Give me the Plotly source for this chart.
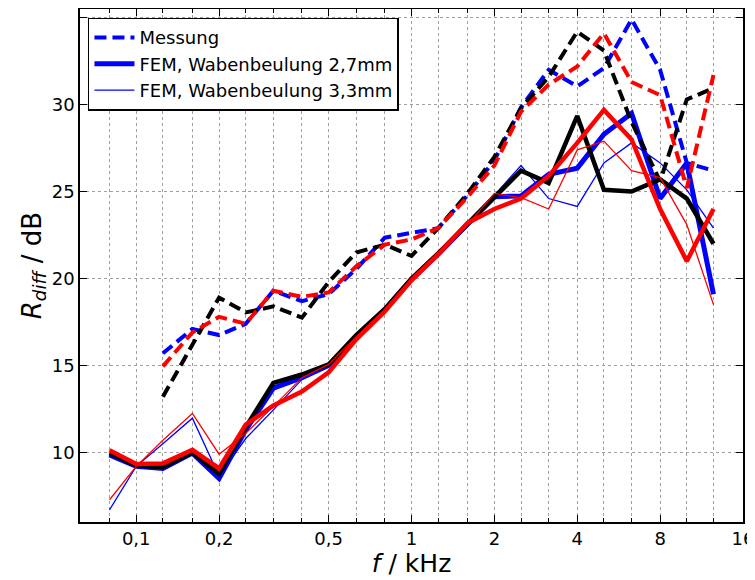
import plotly.graph_objects as go
import math

# third-octave band centre frequencies in kHz
freq = [0.08, 0.1, 0.125, 0.16, 0.2, 0.25, 0.315, 0.4, 0.5, 0.63, 0.8, 1.0,
        1.25, 1.6, 2.0, 2.5, 3.15, 4.0, 5.0, 6.3, 8.0, 10.0, 12.5]
freq_mess = freq[2:]

# measurements (from 125 Hz)
mess_blue = [15.7, 17.1, 16.75, 17.4, 19.3, 18.7, 19.1, 20.55, 22.35, 22.6, 22.9,
             24.8, 26.8, 29.85, 32.0, 31.05, 32.1, 34.9, 32.0, 26.65, 26.2]
mess_red = [14.95, 16.9, 17.8, 17.4, 19.3, 18.95, 19.2, 20.7, 21.95, 22.25, 22.9,
            24.7, 26.5, 29.6, 31.15, 32.2, 34.1, 31.3, 30.55, 25.2, 31.7]
mess_black = [13.2, 16.2, 18.9, 18.05, 18.4, 17.75, 19.8, 21.5, 21.95, 21.3, 22.9,
              24.9, 27.0, 29.8, 31.6, 34.2, 33.1, 29.0, 25.6, 30.3, 30.95]

# FEM, Wabenbeulung 2,7mm
fem27_blue = [9.85, 9.2, 9.08, 9.96, 8.5, 11.3, 13.7, 14.3, 15.0, 16.65, 18.2, 19.95,
              21.4, 23.1, 24.7, 24.75, 26.0, 26.35, 28.3, 29.5, 24.6, 26.65, 19.1]
fem27_black = [9.95, 9.25, 9.15, 10.0, 8.75, 11.45, 14.0, 14.48, 15.06, 16.75, 18.25, 20.0,
               21.45, 23.15, 24.75, 26.2, 25.5, 29.35, 25.1, 25.0, 25.7, 24.6, 22.0]
fem27_red = [10.13, 9.33, 9.37, 10.15, 9.08, 11.6, 12.7, 13.5, 14.6, 16.5, 18.1, 19.9,
             21.4, 23.2, 24.0, 24.6, 25.9, 27.8, 29.7, 28.0, 24.0, 21.0, 24.0]

# FEM, Wabenbeulung 3,3mm
fem33_blue = [6.7, 9.2, 10.5, 11.97, 8.65, 10.8, 12.45, 14.2, 15.06, 16.65, 18.2, 19.95,
              21.4, 23.0, 24.8, 26.5, 24.6, 24.15, 26.65, 27.8, 26.65, 25.1, 22.9]
fem33_red = [7.28, 9.2, 10.7, 12.24, 9.9, 11.1, 12.65, 14.3, 15.06, 16.65, 18.2, 19.95,
             21.4, 23.1, 24.9, 24.65, 24.0, 27.4, 27.9, 26.2, 25.8, 23.1, 18.5]

x_tickvals = [0.1, 0.2, 0.5, 1, 2, 4, 8, 16]
x_ticktext = ["0,1", "0,2", "0,5", "1", "2", "4", "8", "16"]
grid_vals = freq + [16.0]

BLUE = "rgb(0,0,255)"
RED = "rgb(255,0,0)"
BLACK = "rgb(0,0,0)"
DASH = "12px,6px"
GRID = "rgb(160,160,160)"

fig = go.Figure()

def add(x, y, color, width, dash=None, name=None, show=False, group=None):
    fig.add_trace(go.Scatter(
        x=x, y=y, mode="lines",
        line=dict(color=color, width=width, dash=dash if dash else "solid"),
        name=name, showlegend=show, legendgroup=group,
    ))

add(freq_mess, mess_blue, BLUE, 4, DASH, "Messung", True, "g1")
add(freq, fem27_blue, BLUE, 5, None, "FEM, Wabenbeulung 2,7mm", True, "g2")
add(freq, fem33_blue, BLUE, 1.3, None, "FEM, Wabenbeulung 3,3mm", True, "g3")
add(freq_mess, mess_black, BLACK, 4, DASH)
add(freq, fem27_black, BLACK, 4.5)
add(freq_mess, mess_red, RED, 4, DASH)
add(freq, fem27_red, RED, 4.5)
add(freq, fem33_red, RED, 1.3)

# page body has an 8px default margin: the figure is sized/offset to compensate
fig.update_layout(
    width=747, height=572,
    margin=dict(l=72, r=12, t=1, b=58),
    plot_bgcolor="white", paper_bgcolor="white",
    font=dict(family="DejaVu Sans", size=17, color="black"),
    showlegend=True,
    legend=dict(
        x=0.012, y=0.983, xanchor="left", yanchor="top",
        bgcolor="white", bordercolor="black", borderwidth=1.5,
        font=dict(size=18, family="DejaVu Sans"),
        tracegroupgap=0, itemwidth=40,
    ),
    xaxis=dict(
        type="log", automargin=False,
        range=[math.log10(0.0625), math.log10(16)],
        tickmode="array", tickvals=x_tickvals, ticktext=x_ticktext,
        ticks="inside", ticklen=7, tickwidth=1, tickcolor="black",
        showline=True, linecolor="black", linewidth=1.5, mirror="ticks",
        showgrid=True, gridcolor=GRID, griddash="dot", gridwidth=1,
        zeroline=False,
        minor=dict(tickmode="array", tickvals=grid_vals, ticks="inside", ticklen=4,
                   tickcolor="black", showgrid=True, gridcolor=GRID,
                   griddash="dot", gridwidth=1),
        title=dict(text="<i>f</i> / kHz", font=dict(size=25), standoff=4),
        tickfont=dict(size=18),
    ),
    yaxis=dict(
        range=[6, 35.5], automargin=False,
        tickmode="array", tickvals=[10, 15, 20, 25, 30, 35],
        ticks="inside", ticklen=7, tickcolor="black",
        showline=True, linecolor="black", linewidth=1.5, mirror="ticks",
        showgrid=True, gridcolor=GRID, griddash="dot", gridwidth=1,
        zeroline=False,
        title=dict(text="<i>R</i><sub><i>diff</i></sub> / dB", font=dict(size=26), standoff=3),
        tickfont=dict(size=18),
    ),
)

fig.write_html("out.html")
